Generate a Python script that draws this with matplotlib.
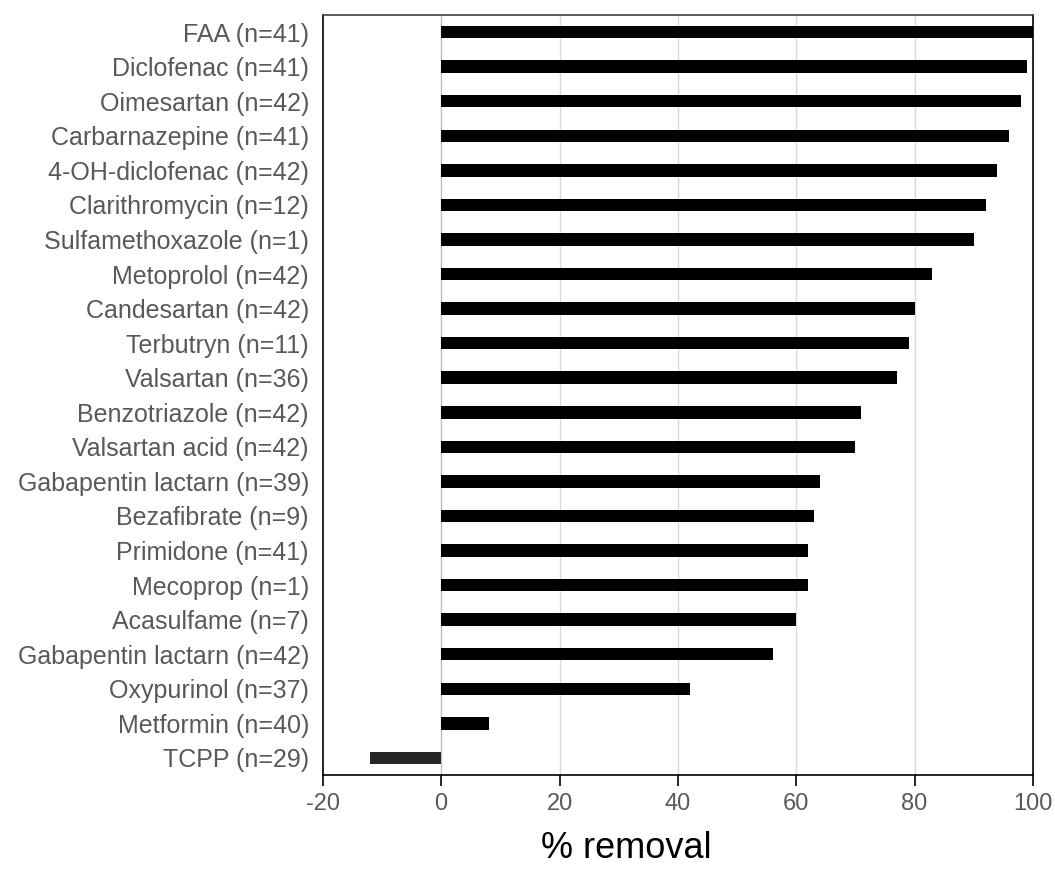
import matplotlib
matplotlib.use("Agg")
import matplotlib.pyplot as plt
import numpy as np

# compounds from top to bottom of the chart
compounds = [
    "FAA (n=41)", "Diclofenac (n=41)", "Oimesartan (n=42)", "Carbarnazepine (n=41)",
    "4-OH-diclofenac (n=42)", "Clarithromycin (n=12)", "Sulfamethoxazole (n=1)",
    "Metoprolol (n=42)", "Candesartan (n=42)", "Terbutryn (n=11)", "Valsartan (n=36)",
    "Benzotriazole (n=42)", "Valsartan acid (n=42)", "Gabapentin lactarn (n=39)",
    "Bezafibrate (n=9)", "Primidone (n=41)", "Mecoprop (n=1)", "Acasulfame (n=7)",
    "Gabapentin lactarn (n=42)", "Oxypurinol (n=37)", "Metformin (n=40)", "TCPP (n=29)",
]
removal = [100, 99, 98, 96, 94, 92, 90, 83, 80, 79, 77, 71, 70, 64, 63, 62, 62, 60,
           56, 42, 8, -12]
xticks = [-20, 0, 20, 40, 60, 80, 100]

plt.rcParams["font.family"] = ["Liberation Sans", "DejaVu Sans"]
TXT = "#595959"

fig = plt.figure(figsize=(10.55, 8.71), dpi=100)
ax = fig.add_axes([0.306, 0.110, 0.673, 0.873])

y = np.arange(len(compounds))[::-1]
colors = ["#000000" if v >= 0 else "#262626" for v in removal]
ax.barh(y, removal, height=0.36, color=colors, zorder=3)

ax.set_xlim(-20, 100)
ax.set_ylim(-0.5, len(compounds) - 0.5)
ax.set_xticks(xticks)
ax.set_xticklabels([str(t) for t in xticks], fontsize=17, color=TXT)
ax.set_yticks(y)
ax.set_yticklabels(compounds, fontsize=18, color=TXT)
ax.tick_params(axis="y", length=0, pad=10)
ax.tick_params(axis="x", direction="out", length=8, width=1.2, pad=5)

for t in xticks[1:-1]:
    ax.axvline(t, color="#d9d9d9" if t else "#bfbfbf", lw=1, zorder=1)

for side in ["left", "right", "top", "bottom"]:
    ax.spines[side].set_color("#000000")
    ax.spines[side].set_linewidth(1.2)
ax.spines["top"].set_color("#404040")

ax.set_xlabel("% removal", fontsize=26, color="black")
ax.xaxis.set_label_coords(0.427, -0.074)

fig.savefig("out.png", dpi=100)
